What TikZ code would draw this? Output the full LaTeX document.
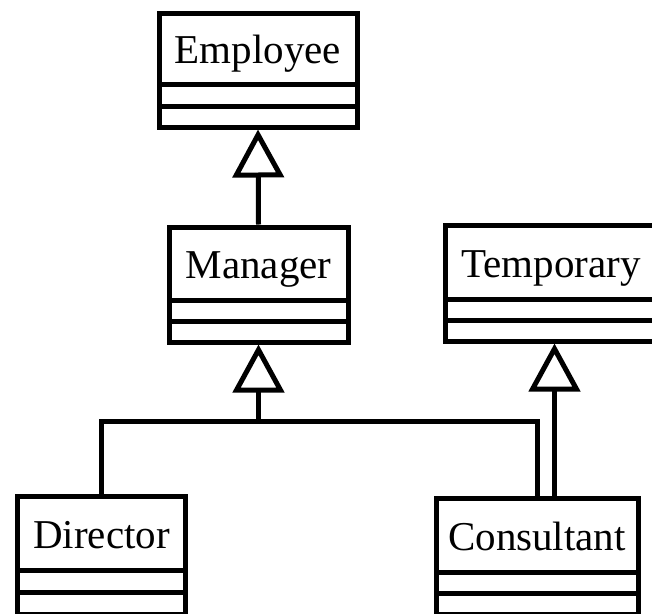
\documentclass[tikz,border=0pt]{standalone}
\usepackage{fontspec}
\setmainfont{Liberation Serif}
\usetikzlibrary{arrows.meta}
\tikzset{
  cls/.style={draw, line width=5pt, inner sep=0pt, text height=30pt, text depth=0pt,
    font=\fontsize{41}{41}\selectfont},
  comp/.style={draw, line width=5pt, inner sep=0pt},
  link/.style={line width=5pt},
  inh/.style={line width=5pt, -{Triangle[open, length=48pt, width=51pt]}},
}
\begin{document}
\begin{tikzpicture}[x=1pt,y=-1pt]
\useasboundingbox (0,0) rectangle (652,613);
\clip (0,0) rectangle (652,613);
% Employee
\node[cls, minimum width=198, minimum height=71] (emp) at (258,48.5) {Employee};
\node[comp, minimum width=198, minimum height=22] (emp2) at (258,95) {};
\node[comp, minimum width=198, minimum height=21] (emp3) at (258,116.5) {};
% Manager
\node[cls, minimum width=179, minimum height=73] (man) at (258.5,263.5) {Manager};
\node[comp, minimum width=179, minimum height=21] (man2) at (258.5,310.5) {};
\node[comp, minimum width=179, minimum height=21] (man3) at (258.5,331.5) {};
% Temporary
\node[cls, minimum width=211, minimum height=73.5] (tmp) at (551,262.25) {Temporary};
\node[comp, minimum width=211, minimum height=21] (tmp2) at (551,309.5) {};
\node[comp, minimum width=211, minimum height=21] (tmp3) at (551,330.5) {};
% Director
\node[cls, minimum width=168, minimum height=74] (dir) at (101.5,533) {Director};
\node[comp, minimum width=168, minimum height=22] (dir2) at (101.5,581) {};
\node[comp, minimum width=168, minimum height=22] (dir3) at (101.5,603) {};
% Consultant
\node[cls, minimum width=202, minimum height=74] (con) at (537,535) {Consultant};
\node[comp, minimum width=202, minimum height=21] (con2) at (537,582.5) {};
\node[comp, minimum width=202, minimum height=21] (con3) at (537,603.5) {};
% connectors
\coordinate (j) at (258.5,421);
\draw[inh] (man.north) -- (emp3.south);
\draw[inh] (dir.north) |- (j) -- (man3.south);
\draw[link] (con.north) |- (j);
\draw[inh] ([xshift=17.5pt]con.north) -- ([xshift=17.5pt]con.north |- tmp3.south);
\end{tikzpicture}
\end{document}
